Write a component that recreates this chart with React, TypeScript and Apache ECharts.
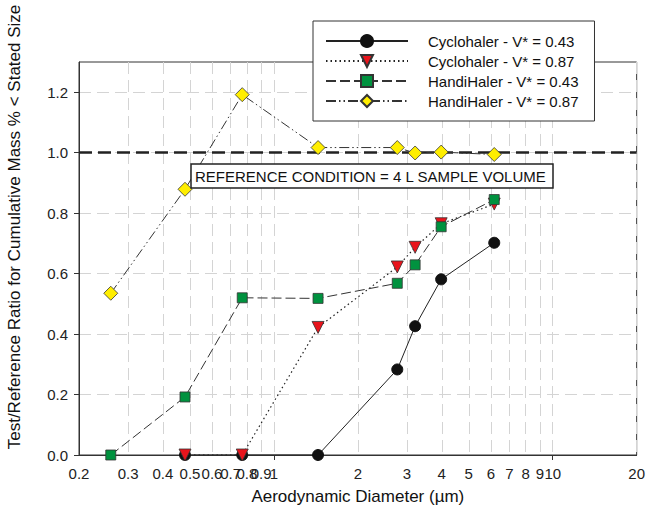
import React, { useEffect, useRef } from "react";
import * as echarts from "echarts";

const xCyclo43 = [0.48, 0.77, 1.44, 2.77, 3.21, 3.98, 6.17];
const yCyclo43 = [0, 0, 0, 0.283, 0.426, 0.581, 0.702];
const xCyclo87 = [0.48, 0.77, 1.44, 2.77, 3.21, 3.98, 6.17];
const yCyclo87 = [0, 0, 0.422, 0.622, 0.687, 0.765, 0.83];
const xHandi43 = [0.26, 0.48, 0.77, 1.44, 2.77, 3.21, 3.98, 6.17];
const yHandi43 = [0, 0.192, 0.52, 0.518, 0.568, 0.629, 0.755, 0.845];
const xHandi87 = [0.26, 0.48, 0.77, 1.44, 2.77, 3.21, 3.98, 6.17];
const yHandi87 = [0.535, 0.879, 1.192, 1.017, 1.017, 0.999, 1.002, 0.994];

const xTickLabels = [0.2, 0.3, 0.4, 0.5, 0.6, 0.7, 0.8, 0.9, 1, 2, 3, 4, 5, 6, 7, 8, 9, 10, 20];
const xMajorTicks = [1, 10];
const yTicks = [0, 0.2, 0.4, 0.6, 0.8, 1.0, 1.2];
const referenceValue = 1.0;

const seriesNames = [
  "Cyclohaler - V* = 0.43",
  "Cyclohaler - V* = 0.87",
  "HandiHaler - V* = 0.43",
  "HandiHaler - V* = 0.87",
];

const FONT = "Liberation Sans, Arial, sans-serif";

const zip = (xs: number[], ys: number[]) => xs.map((x, i) => [x, ys[i]]);

export default function App() {
  const ref = useRef<HTMLDivElement>(null);
  useEffect(() => {
    if (!ref.current) return;
    const chart = echarts.init(ref.current, undefined, { renderer: "svg" });
    const lineColor = "#222";
    const gridLine = { show: true, lineStyle: { color: "#d4d4d4", width: 1, type: [12, 6] as any } };
    chart.setOption({
      animation: false,
      backgroundColor: "#fff",
      textStyle: { fontFamily: FONT },
      grid: {
        left: 79,
        right: 8,
        top: 62,
        bottom: 58,
        show: true,
        borderColor: "#333",
        borderWidth: 1,
        containLabel: false,
      },
      legend: {
        orient: "vertical",
        left: 313,
        top: 21,
        padding: [12.5, 16, 12.5, 12],
        itemWidth: 82,
        itemHeight: 15,
        itemGap: 5,
        backgroundColor: "#fff",
        borderColor: "#333",
        borderWidth: 1,
        z: 20,
        textStyle: { fontFamily: FONT, fontSize: 15, color: "#111", padding: [0, 0, 0, 15] },
        data: seriesNames,
      },
      xAxis: [
        {
          type: "log",
          logBase: 10,
          min: 0.2,
          max: 20,
          name: "Aerodynamic Diameter (µm)",
          nameLocation: "middle",
          nameGap: 33,
          nameTextStyle: { fontFamily: FONT, fontSize: 17, color: "#111" },
          axisLine: { show: true, lineStyle: { color: "#333", width: 1 } },
          axisTick: { show: false, customValues: xTickLabels },
          axisLabel: {
            customValues: xTickLabels,
            fontFamily: FONT,
            fontSize: 15,
            color: "#222",
            margin: 11,
            formatter: (v: number) => String(Math.round(v * 10) / 10),
          },
          splitLine: gridLine,
        },
        {
          type: "log",
          logBase: 10,
          min: 0.2,
          max: 20,
          position: "bottom",
          axisLine: { show: false },
          axisTick: { show: true, customValues: xMajorTicks, length: 5, lineStyle: { color: "#333" } },
          axisLabel: { show: false },
          splitLine: { show: false },
        },
      ],
      yAxis: {
        type: "value",
        min: 0,
        max: 1.3,
        axisLine: { show: true, lineStyle: { color: "#333", width: 1 } },
        axisTick: { show: true, customValues: yTicks, length: 5, lineStyle: { color: "#333" } },
        axisLabel: {
          customValues: yTicks,
          fontFamily: FONT,
          fontSize: 15,
          color: "#222",
          margin: 11,
          formatter: (v: number) => v.toFixed(1),
        },
        splitLine: gridLine,
      },
      graphic: [
        {
          type: "text",
          x: 14,
          y: 227,
          rotation: Math.PI / 2,
          style: {
            text: "Test/Reference Ratio for Cumulative Mass % < Stated Size",
            font: `17px ${FONT}`,
            fill: "#111",
            align: "center",
            verticalAlign: "middle",
          },
        },
        {
          type: "rect",
          z: 100,
          shape: { x: 191, y: 164, width: 362, height: 24 },
          style: { fill: "#fff", stroke: "#222", lineWidth: 1.5 },
        },
        {
          type: "text",
          z: 101,
          x: 195,
          y: 176.5,
          style: {
            text: "REFERENCE CONDITION = 4 L SAMPLE VOLUME",
            font: `15px ${FONT}`,
            fill: "#111",
            align: "left",
            verticalAlign: "middle",
          },
        },
      ],
      series: [
        {
          name: seriesNames[0],
          type: "line",
          data: zip(xCyclo43, yCyclo43),
          symbol: "circle",
          symbolSize: 11,
          itemStyle: { color: "#111", borderColor: "#111", borderWidth: 1 },
          lineStyle: { color: lineColor, width: 1, type: "solid" },
          z: 3,
          markLine: {
            silent: true,
            symbol: "none",
            label: { show: false },
            lineStyle: { color: "#222", width: 2.5, type: [13, 6] as any },
            data: [{ yAxis: referenceValue }],
          },
        },
        {
          name: seriesNames[1],
          type: "line",
          data: zip(xCyclo87, yCyclo87),
          symbol: "triangle",
          symbolRotate: 180,
          symbolSize: 12,
          itemStyle: { color: "#e8141c", borderColor: "#333", borderWidth: 0.8 },
          lineStyle: { color: lineColor, width: 1.2, type: [1.5, 3] as any },
          z: 4,
        },
        {
          name: seriesNames[2],
          type: "line",
          data: zip(xHandi43, yHandi43),
          symbol: "rect",
          symbolSize: 10,
          itemStyle: { color: "#00923f", borderColor: "#333", borderWidth: 0.8 },
          lineStyle: { color: "#333", width: 1, type: [10, 4] as any },
          z: 5,
        },
        {
          name: seriesNames[3],
          type: "line",
          data: zip(xHandi87, yHandi87),
          symbol: "diamond",
          symbolSize: 14,
          itemStyle: { color: "#ffee00", borderColor: "#333", borderWidth: 0.8 },
          lineStyle: { color: "#333", width: 1, type: [10, 3, 1.5, 3, 1.5, 3] as any },
          z: 6,
        },
      ],
    });
    return () => chart.dispose();
  }, []);
  return <div ref={ref} style={{ width: 648, height: 513, position: "absolute", left: 0, top: 0 }} />;
}
